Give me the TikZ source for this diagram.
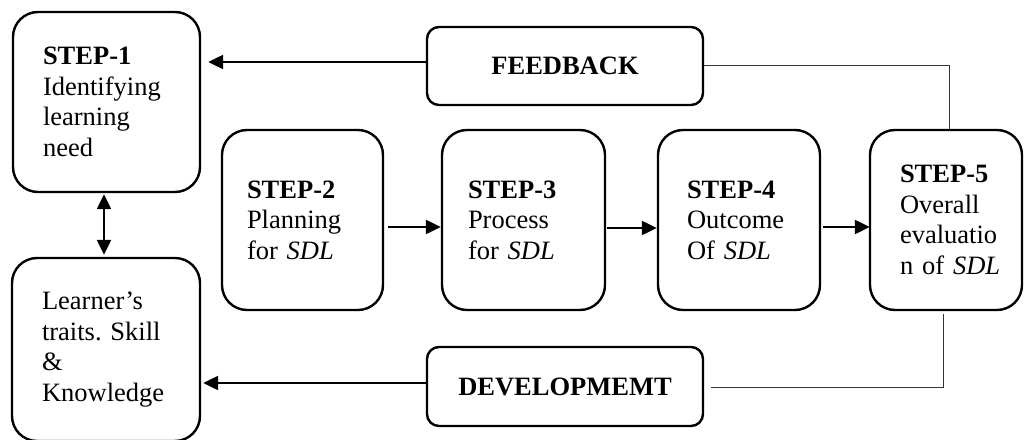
\documentclass[tikz,border=0pt]{standalone}
\usepackage{fontspec}
\setmainfont{Liberation Serif}
\usetikzlibrary{arrows.meta,calc}
\begin{document}
\begin{tikzpicture}[x=1pt,y=-1pt,
  txt/.style={font=\fontsize{26.5}{30.5}\selectfont},
  stepbox/.style={draw, line width=2.4pt, rounded corners=25pt, inner ysep=0pt, align=left, txt},
  labbox/.style={draw, line width=2.4pt, rounded corners=12pt, minimum width=276pt, inner sep=0pt, font=\bfseries\fontsize{26.5}{30.5}\selectfont},
  arr/.style={line width=2.3pt, -{Triangle[length=15pt,width=14pt]}},
  darr/.style={line width=2.3pt, {Triangle[length=15pt,width=14pt]}-{Triangle[length=15pt,width=14pt]}},
  thinline/.style={line width=1pt, draw=black!80}
]
\useasboundingbox (0,0) rectangle (1025,439);

\node[stepbox, text width=127pt, inner xsep=30pt, minimum height=180pt] (s1) at (106.5,102)
  {\textbf{STEP-1}\\Identifying\\learning\\need};
\node[stepbox, text width=128pt, inner xsep=30pt, minimum height=183pt] (learner) at (106,349.5)
  {Learner’s\\\mbox{traits.\ Skill}\\\&\\Knowledge};
\node[stepbox, text width=111pt, inner xsep=25pt, minimum height=180pt] (s2) at (302.5,220)
  {\textbf{STEP-2}\\Planning\\for \textit{SDL}};
\node[stepbox, text width=111pt, inner xsep=26pt, minimum height=180pt] (s3) at (523.5,220)
  {\textbf{STEP-3}\\Process\\for \textit{SDL}};
\node[stepbox, text width=104pt, inner xsep=29pt, minimum height=180pt] (s4) at (739,220)
  {\textbf{STEP-4}\\Outcome\\Of \textit{SDL}};
\node[stepbox, text width=92pt, inner xsep=30pt, minimum height=180pt] (s5) at (946,220)
  {\textbf{STEP-5}\\Overall\\\mbox{evaluatio}\\\mbox{n of \textit{SDL}}};

\node[labbox, minimum height=78pt] (feedback) at (565,66) {FEEDBACK};
\node[labbox, minimum height=79pt] (develop) at (565,386.5) {DEVELOPMEMT};

\draw[arr] ($(feedback.west)+(0,-4)$) -- ($(feedback.west -| s1.east)+(7,-4)$);
\draw[arr] ($(develop.west)+(0,-3.5)$) -- ($(develop.west -| learner.east)+(2,-3.5)$);
\draw[darr] ($(s1.south)+(-2.5,1)$) -- ($(s1.south |- learner.north)+(-2.5,-2)$);
\draw[arr] ($(s2.east)+(4,7)$) -- ($(s3.west)+(0,7)$);
\draw[arr] ($(s3.east)+(1,8)$) -- ($(s4.west)+(0,8)$);
\draw[arr] ($(s4.east)+(2,7)$) -- ($(s5.west)+(1,7)$);

\draw[thinline] ($(feedback.east)+(0,-1)$) -| ($(s5.north)+(3,0)$);
\draw[thinline] ($(s5.south)+(-3,3)$) |- ($(develop.east)+(7,0.5)$);
\end{tikzpicture}
\end{document}
